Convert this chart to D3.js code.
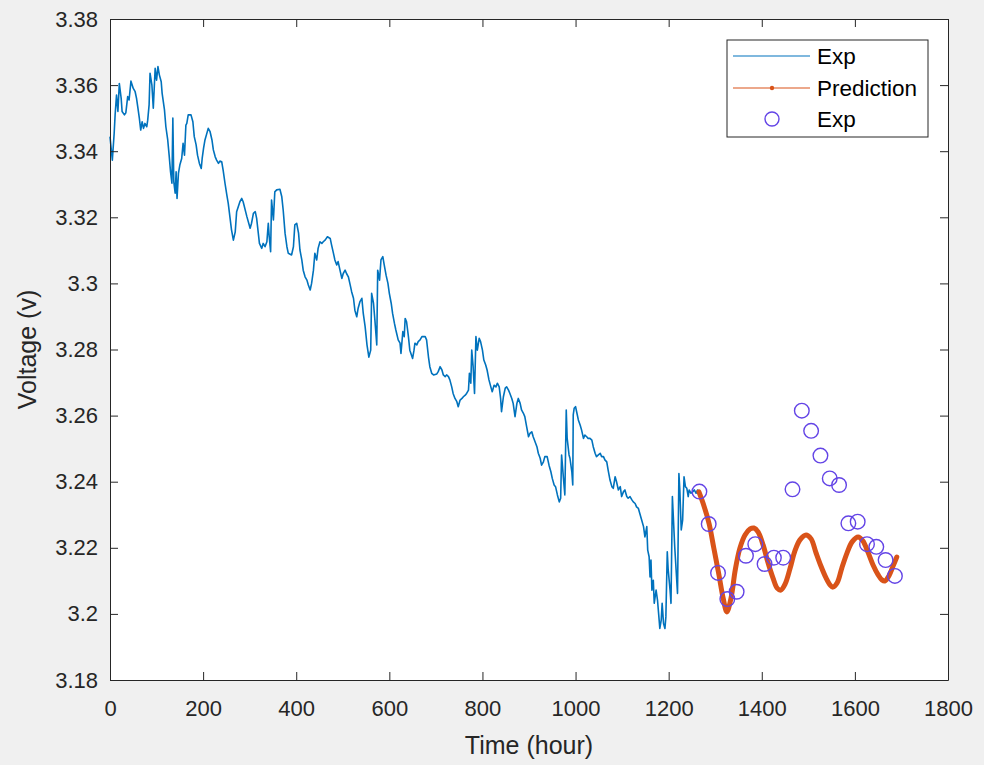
<!DOCTYPE html>
<html>
<head>
<meta charset="utf-8">
<script src="https://cdn.jsdelivr.net/npm/d3@7/dist/d3.min.js"></script>
<style>
  body { margin: 0; background: #f0f0f0; }
  svg { display: block; font-family: "Liberation Sans", Arial, sans-serif; }
</style>
</head>
<body>
<div id="chart"></div>
<script>
// Measured voltage [hour, volt]
const expSeries = [
  [0,3.3444],[5,3.3373],[9,3.3455],[11,3.3510],[14,3.3570],[17,3.3520],[20,3.3605],[24,3.3560],[26,3.3520],[31,3.3510],
  [34,3.3516],[38,3.3565],[41,3.3555],[45,3.3612],[50,3.3590],[54,3.3580],[57,3.3560],[60,3.3530],[63,3.3500],[66,3.3464],
  [69,3.3489],[72,3.3469],[75,3.3484],[79,3.3474],[81,3.3494],[84,3.3540],[86,3.3636],[90,3.3600],[93,3.3530],[97,3.3651],
  [100,3.3615],[103,3.3656],[106,3.3631],[110,3.3610],[112,3.3575],[117,3.3525],[120,3.3474],[124,3.3434],[127,3.3388],[130,3.3338],
  [133,3.3303],[135,3.3500],[137,3.3308],[140,3.3273],[142,3.3338],[144,3.3257],[147,3.3333],[150,3.3358],[154,3.3378],[157,3.3424],
  [160,3.3388],[163,3.3479],[165,3.3484],[168,3.3510],[174,3.3510],[178,3.3489],[181,3.3444],[185,3.3419],[188,3.3388],[192,3.3363],
  [196,3.3348],[198,3.3378],[201,3.3409],[204,3.3434],[208,3.3454],[211,3.3469],[215,3.3459],[219,3.3434],[222,3.3404],[226,3.3383],
  [229,3.3373],[233,3.3363],[236,3.3370],[240,3.3368],[243,3.3343],[247,3.3303],[251,3.3267],[254,3.3242],[261,3.3162],[265,3.3131],
  [269,3.3156],[272,3.3217],[279,3.3247],[283,3.3257],[286,3.3247],[294,3.3202],[301,3.3167],[304,3.3182],[308,3.3212],[312,3.3217],
  [315,3.3197],[321,3.3121],[326,3.3106],[329,3.3121],[333,3.3111],[337,3.3126],[340,3.3182],[342,3.3141],[345,3.3096],[347,3.3252],
  [351,3.3192],[354,3.3277],[358,3.3283],[365,3.3285],[369,3.3262],[372,3.3222],[376,3.3152],[380,3.3111],[383,3.3091],[390,3.3086],
  [394,3.3111],[397,3.3177],[401,3.3182],[405,3.3152],[408,3.3101],[412,3.3071],[415,3.3040],[419,3.3020],[423,3.3010],[426,3.2995],
  [430,3.2980],[433,3.3000],[437,3.3040],[440,3.3091],[444,3.3071],[447,3.3106],[451,3.3126],[455,3.3121],[458,3.3126],[462,3.3131],
  [467,3.3141],[473,3.3136],[476,3.3116],[480,3.3091],[483,3.3071],[487,3.3056],[490,3.3066],[494,3.3040],[498,3.3015],[501,3.3030],
  [505,3.3040],[508,3.3030],[512,3.3020],[516,3.2995],[519,3.2975],[523,3.2955],[526,3.2919],[530,3.2899],[533,3.2925],[537,3.2945],
  [541,3.2955],[544,3.2909],[548,3.2869],[552,3.2814],[556,3.2777],[560,3.2798],[562,3.2970],[566,3.2940],[569,3.2889],[573,3.2814],
  [575,3.3040],[579,3.3010],[582,3.3071],[586,3.3081],[589,3.3056],[593,3.3025],[597,3.3000],[600,3.2970],[604,3.2940],[607,3.2909],
  [611,3.2879],[614,3.2859],[619,3.2829],[623,3.2819],[625,3.2788],[629,3.2854],[632,3.2839],[634,3.2894],[637,3.2884],[641,3.2839],
  [644,3.2798],[650,3.2773],[653,3.2798],[655,3.2819],[659,3.2814],[662,3.2824],[666,3.2829],[670,3.2839],[677,3.2839],[680,3.2829],
  [684,3.2778],[687,3.2748],[691,3.2728],[695,3.2723],[702,3.2726],[705,3.2733],[709,3.2748],[713,3.2738],[716,3.2723],[720,3.2718],
  [723,3.2723],[727,3.2718],[730,3.2708],[734,3.2687],[737,3.2667],[741,3.2652],[745,3.2642],[748,3.2627],[752,3.2647],[756,3.2652],
  [759,3.2657],[763,3.2662],[766,3.2667],[770,3.2677],[772,3.2728],[775,3.2698],[777,3.2798],[780,3.2748],[783,3.2667],[786,3.2839],
  [789,3.2798],[793,3.2834],[796,3.2824],[800,3.2798],[803,3.2768],[807,3.2753],[810,3.2738],[814,3.2708],[818,3.2687],[821,3.2672],
  [825,3.2692],[829,3.2687],[832,3.2698],[836,3.2687],[839,3.2652],[841,3.2612],[845,3.2657],[849,3.2683],[852,3.2687],[856,3.2677],
  [859,3.2667],[863,3.2652],[866,3.2637],[870,3.2597],[874,3.2637],[877,3.2652],[881,3.2637],[884,3.2617],[888,3.2607],[891,3.2597],
  [895,3.2566],[899,3.2536],[902,3.2546],[906,3.2551],[909,3.2536],[913,3.2521],[917,3.2506],[920,3.2486],[924,3.2471],[927,3.2450],
  [931,3.2460],[934,3.2476],[939,3.2476],[943,3.2450],[947,3.2430],[950,3.2410],[954,3.2390],[957,3.2385],[961,3.2360],[965,3.2339],
  [968,3.2350],[970,3.2481],[974,3.2410],[977,3.2360],[980,3.2617],[982,3.2531],[986,3.2481],[988,3.2471],[992,3.2430],[994,3.2390],
  [995,3.2602],[997,3.2622],[1000,3.2627],[1003,3.2607],[1006,3.2587],[1010,3.2571],[1013,3.2556],[1017,3.2531],[1020,3.2541],[1024,3.2536],
  [1027,3.2531],[1031,3.2531],[1035,3.2526],[1038,3.2506],[1042,3.2486],[1045,3.2476],[1049,3.2481],[1053,3.2486],[1056,3.2476],[1060,3.2476],
  [1063,3.2466],[1067,3.2460],[1070,3.2435],[1074,3.2405],[1078,3.2385],[1081,3.2380],[1085,3.2415],[1088,3.2400],[1092,3.2375],[1096,3.2385],
  [1099,3.2355],[1103,3.2370],[1106,3.2375],[1110,3.2355],[1113,3.2350],[1117,3.2355],[1121,3.2345],[1124,3.2339],[1128,3.2334],[1131,3.2324],
  [1135,3.2319],[1138,3.2304],[1142,3.2284],[1146,3.2264],[1149,3.2233],[1153,3.2264],[1155,3.2193],[1158,3.2173],[1160,3.2112],[1162,3.2163],
  [1164,3.2072],[1167,3.2102],[1169,3.2032],[1173,3.2072],[1176,3.2042],[1179,3.1991],[1181,3.1956],[1184,3.1981],[1186,3.2032],[1189,3.1971],
  [1192,3.1956],[1194,3.1991],[1197,3.2188],[1199,3.2133],[1203,3.2072],[1205,3.2032],[1208,3.2355],[1210,3.2294],[1213,3.2203],[1216,3.2133],
  [1219,3.2062],[1222,3.2425],[1224,3.2375],[1227,3.2254],[1230,3.2284],[1233,3.2415],[1236,3.2385],[1239,3.2380],[1242,3.2355],[1244,3.2375],
  [1248,3.2365],[1252,3.2370],[1255,3.2375],[1259,3.2365],[1262,3.2375],[1266,3.2365]
];

// Model prediction [hour, volt]
const predSeries = [
  [1265,3.2369],[1276,3.2326],[1287,3.2272],[1297,3.2199],[1308,3.2118],[1317,3.2048],[1325,3.2006],[1334,3.2048],[1343,3.2133],[1353,3.2199],
  [1364,3.2239],[1375,3.2257],[1383,3.2260],[1392,3.2248],[1403,3.2208],[1413,3.2157],[1424,3.2109],[1433,3.2078],[1441,3.2072],[1450,3.2090],
  [1461,3.2139],[1471,3.2190],[1482,3.2224],[1495,3.2239],[1506,3.2227],[1516,3.2187],[1527,3.2145],[1538,3.2109],[1547,3.2087],[1553,3.2081],
  [1562,3.2094],[1572,3.2139],[1583,3.2184],[1594,3.2218],[1607,3.2233],[1617,3.2221],[1628,3.2187],[1639,3.2148],[1650,3.2118],[1658,3.2103],
  [1665,3.2100],[1673,3.2115],[1682,3.2145],[1690,3.2172]
];

// Measured samples in the prediction window
const sampleTime = [1266,1286,1306,1326,1346,1366,1386,1406,1426,1446,1466,1486,1506,1526,1546,1566,1586,1606,1626,1646,1666,1686];
const sampleVolt = [3.2370,3.2272,3.2124,3.2045,3.2067,3.2176,3.2211,3.2151,3.2170,3.2170,3.2377,3.2615,3.2554,3.2479,3.2410,3.2390,3.2274,3.2279,3.2211,3.2203,3.2163,3.2115];

const xTicks = [0,200,400,600,800,1000,1200,1400,1600,1800];
const yTicks = [3.18,3.2,3.22,3.24,3.26,3.28,3.3,3.32,3.34,3.36,3.38];
const legendLabels = ["Exp","Prediction","Exp"];

const W = 984, H = 765;
const margin = {top: 19, right: 36, bottom: 85, left: 110};
const width = W - margin.left - margin.right;
const height = H - margin.top - margin.bottom;
const axisColor = "#262626";

const svg = d3.select("#chart").append("svg")
  .attr("width", W)
  .attr("height", H);

svg.append("rect").attr("width", W).attr("height", H).attr("fill", "#f0f0f0");

const g = svg.append("g").attr("transform", `translate(${margin.left},${margin.top})`);

g.append("rect").attr("width", width).attr("height", height).attr("fill", "#fff");

// Scales
const x = d3.scaleLinear().domain([0, 1800]).range([0, width]);
const y = d3.scaleLinear().domain([3.18, 3.38]).range([height, 0]);

// Exp line
const line = d3.line().x(d => x(d[0])).y(d => y(d[1]));
g.append("path")
  .datum(expSeries)
  .attr("fill", "none")
  .attr("stroke", "#0072BD")
  .attr("stroke-width", 1.6)
  .attr("stroke-linejoin", "round")
  .attr("d", line);

// Prediction line
g.append("path")
  .datum(predSeries)
  .attr("fill", "none")
  .attr("stroke", "#D95319")
  .attr("stroke-width", 5)
  .attr("stroke-linecap", "round")
  .attr("stroke-linejoin", "round")
  .attr("d", line.curve(d3.curveCatmullRom));

// Sample circles
g.selectAll("circle.sample")
  .data(sampleTime)
  .join("circle")
  .attr("class", "sample")
  .attr("cx", d => x(d))
  .attr("cy", (d, i) => y(sampleVolt[i]))
  .attr("r", 7.3)
  .attr("fill", "none")
  .attr("stroke", "#6344e6")
  .attr("stroke-width", 1.4);

// Axes (ticks inside, box on)
const tick = 8;
const styleAxis = sel => {
  sel.selectAll("path.domain").attr("stroke", axisColor).attr("stroke-width", 1);
  sel.selectAll(".tick line").attr("stroke", axisColor).attr("stroke-width", 1);
  sel.selectAll("text").attr("fill", axisColor).style("font-size", "22px")
    .style("font-family", "'Liberation Sans', Arial, sans-serif");
};

g.append("g")
  .attr("transform", `translate(0,${height})`)
  .call(d3.axisBottom(x).tickValues(xTicks).tickSizeInner(-tick).tickSizeOuter(0).tickPadding(20).tickFormat(d3.format("d")))
  .call(styleAxis);

g.append("g")
  .call(d3.axisTop(x).tickValues(xTicks).tickSizeInner(-tick).tickSizeOuter(0).tickFormat(""))
  .call(styleAxis);

g.append("g")
  .call(d3.axisLeft(y).tickValues(yTicks).tickSizeInner(-tick).tickSizeOuter(0).tickPadding(12).tickFormat(d => d3.format("")(+d.toFixed(2))))
  .call(styleAxis);

g.append("g")
  .attr("transform", `translate(${width},0)`)
  .call(d3.axisRight(y).tickValues(yTicks).tickSizeInner(-tick).tickSizeOuter(0).tickFormat(""))
  .call(styleAxis);

// Axis titles
svg.append("text")
  .attr("x", margin.left + width / 2)
  .attr("y", 754)
  .attr("text-anchor", "middle")
  .attr("fill", axisColor)
  .style("font-size", "25px")
  .text("Time (hour)");

svg.append("text")
  .attr("transform", `translate(36,${margin.top + height / 2}) rotate(-90)`)
  .attr("text-anchor", "middle")
  .attr("fill", axisColor)
  .style("font-size", "25px")
  .text("Voltage (v)");

// Legend
const lg = svg.append("g").attr("transform", "translate(727,40)");
lg.append("rect")
  .attr("width", 201).attr("height", 97)
  .attr("fill", "#fff").attr("stroke", axisColor).attr("stroke-width", 1);

const rowY = [16, 48, 79];
lg.append("line").attr("x1", 6).attr("x2", 83).attr("y1", rowY[0]).attr("y2", rowY[0])
  .attr("stroke", "#0072BD").attr("stroke-width", 1.2);
lg.append("line").attr("x1", 6).attr("x2", 83).attr("y1", rowY[1]).attr("y2", rowY[1])
  .attr("stroke", "#D95319").attr("stroke-width", 1.2);
lg.append("circle").attr("cx", 45).attr("cy", rowY[1]).attr("r", 2.2).attr("fill", "#D95319");
lg.append("circle").attr("cx", 45).attr("cy", rowY[2]).attr("r", 7)
  .attr("fill", "none").attr("stroke", "#6344e6").attr("stroke-width", 1.4);

lg.selectAll("text.lab")
  .data(legendLabels)
  .join("text")
  .attr("class", "lab")
  .attr("x", 90)
  .attr("y", (d, i) => rowY[i])
  .attr("dy", "0.36em")
  .attr("fill", "#000")
  .style("font-size", "22.5px")
  .text(d => d);
</script>
</body>
</html>
